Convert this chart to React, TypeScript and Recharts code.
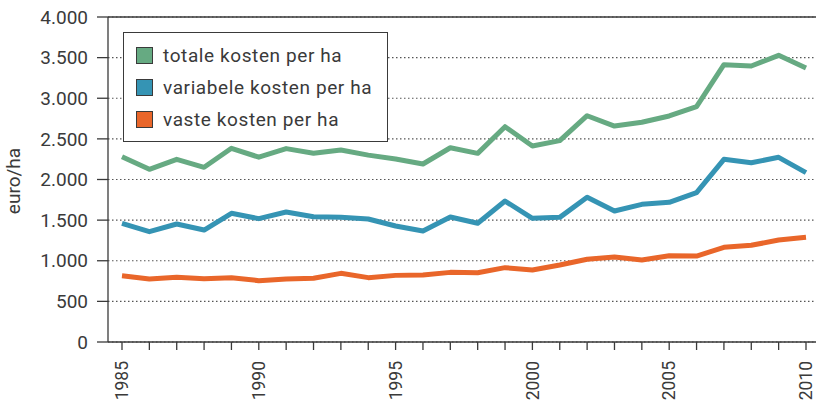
import {
	CartesianGrid,
	Line,
	LineChart,
	ReferenceLine,
	XAxis,
	YAxis,
} from "recharts";

const years = [
	1985, 1986, 1987, 1988, 1989, 1990, 1991, 1992, 1993, 1994, 1995, 1996, 1997,
	1998, 1999, 2000, 2001, 2002, 2003, 2004, 2005, 2006, 2007, 2008, 2009, 2010,
];
const totaleKosten = [
	2280, 2125, 2248, 2150, 2384, 2275, 2380, 2322, 2363, 2300, 2252, 2191, 2391,
	2322, 2650, 2412, 2478, 2785, 2658, 2704, 2782, 2896, 3413, 3397, 3528, 3372,
];
const variabeleKosten = [
	1461, 1358, 1452, 1378, 1584, 1518, 1600, 1542, 1534, 1514, 1428, 1366, 1538,
	1461, 1735, 1522, 1534, 1781, 1612, 1694, 1719, 1838, 2248, 2207, 2273, 2084,
];
const vasteKosten = [
	816, 775, 796, 779, 792, 755, 775, 784, 845, 792, 820, 825, 857, 853, 915, 886,
	948, 1018, 1046, 1009, 1062, 1058, 1165, 1190, 1255, 1288,
];
const yTicks = [0, 500, 1000, 1500, 2000, 2500, 3000, 3500, 4000];

const series = [
	{ key: "totale", name: "totale kosten per ha", color: "#66aa82" },
	{ key: "variabele", name: "variabele kosten per ha", color: "#3594b4" },
	{ key: "vaste", name: "vaste kosten per ha", color: "#e9662a" },
];

const data = years.map((year, i) => ({
	year,
	totale: totaleKosten[i],
	variabele: variabeleKosten[i],
	vaste: vasteKosten[i],
}));

const FONT = "Roboto, 'DejaVu Sans', sans-serif";
const INK = "#3a3a3a";

const formatThousands = (v: number) =>
	String(v).replace(/\B(?=(\d{3})+(?!\d))/g, ".");

function YearTick({ x, y, payload }: any) {
	if (payload.value % 5 !== 0) return null;
	return (
		<text
			x={x}
			y={y}
			transform={`rotate(-90, ${x}, ${y})`}
			textAnchor="end"
			dy="0.36em"
			fontSize={17.5}
			fontFamily={FONT}
			fill={INK}
		>
			{payload.value}
		</text>
	);
}

function LegendBox() {
	return (
		<div
			style={{
				position: "absolute",
				left: 123,
				top: 32,
				width: 265,
				height: 110,
				boxSizing: "border-box",
				border: `1.5px solid ${INK}`,
				background: "#fff",
				fontFamily: FONT,
				fontSize: 19,
				letterSpacing: 0.6,
				color: INK,
			}}
		>
			{series.map((s, i) => (
				<div
					key={s.key}
					style={{
						position: "absolute",
						left: 12,
						top: 12 + i * 32,
						height: 20,
						display: "flex",
						alignItems: "center",
						whiteSpace: "nowrap",
					}}
				>
					<span
						style={{
							width: 17,
							height: 17,
							boxSizing: "border-box",
							background: s.color,
							border: `1px solid ${INK}`,
							marginRight: 10,
						}}
					/>
					{s.name}
				</div>
			))}
		</div>
	);
}

export default function App() {
	return (
		<div style={{ position: "relative", width: 816, height: 405 }}>
			<style>{"body{margin:0}"}</style>
			<LineChart
				width={816}
				height={405}
				data={data}
				margin={{ top: 17, right: 0, bottom: 0, left: 0 }}
			>
				<CartesianGrid
					vertical={false}
					stroke="#555"
					strokeDasharray="1.5 2.5"
					strokeWidth={1.2}
				/>
				<XAxis
					dataKey="year"
					type="number"
					domain={[1985, 2010]}
					ticks={years}
					interval={0}
					padding={{ left: 14, right: 10 }}
					height={63}
					tickSize={8}
					tickMargin={11}
					stroke={INK}
					strokeWidth={1.3}
					tick={<YearTick />}
				/>
				<YAxis
					domain={[0, 4000]}
					ticks={yTicks}
					width={108}
					tickSize={11}
					tickMargin={9}
					stroke={INK}
					strokeWidth={1.3}
					tickFormatter={formatThousands}
					tick={{ fontSize: 19, fontFamily: FONT, fill: INK }}
				/>
				<ReferenceLine y={4000} stroke={INK} strokeWidth={1.5} />
				{series.map((s) => (
					<Line
						key={s.key}
						dataKey={s.key}
						name={s.name}
						stroke={s.color}
						strokeWidth={5}
						strokeLinejoin="round"
						dot={false}
						activeDot={false}
						isAnimationActive={false}
					/>
				))}
				<text
					x={20}
					y={181}
					transform="rotate(-90, 20, 181)"
					textAnchor="middle"
					fontSize={19}
					fontFamily={FONT}
					fill={INK}
				>
					euro/ha
				</text>
			</LineChart>
			<LegendBox />
		</div>
	);
}
